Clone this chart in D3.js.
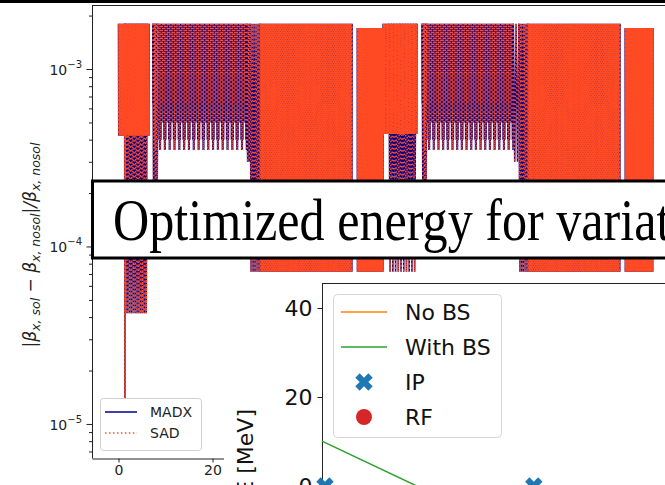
<!DOCTYPE html>
<html>
<head>
<meta charset="utf-8">
<script src="https://cdn.jsdelivr.net/npm/d3@7"></script>
<style>
body { margin: 0; background: #fff; }
svg { display: block; }
text { font-family: "DejaVu Sans", sans-serif; }
</style>
</head>
<body>
<svg id="chart" width="665" height="485"></svg>
<script>
// background plot: relative beta-beat, MADX vs SAD (bands of fast oscillation)
const bandFrom    = [0.0, 1.4, 1.3, 7.3, 7.3, 27.3, 28.0, 30.1, 50.8, 56.3, 57.5, 64.6, 64.6, 84.0, 85.2, 87.1, 107.8];
const bandTo      = [6.5, 6.1, 1.45, 27.3, 8.4, 28.0, 30.1, 49.7, 56.3, 63.5, 63.3, 84.0, 65.6, 85.2, 87.1, 106.7, 113.7];
const bandTop     = [1.8e-3, 1.8e-3, 1.8e-3, 1.8e-3, 1.8e-3, 1.8e-3, 1.8e-3, 1.8e-3, 1.7e-3,
                     1.8e-3, 1.8e-3, 1.8e-3, 1.8e-3, 1.8e-3, 1.8e-3, 1.8e-3, 1.7e-3];
const cellLows    = [6.4e-4, 5.0e-4, 4.0e-4, 3.5e-4, 3.5e-4, 4.0e-4, 5.0e-4, 6.4e-4];
const bandLows    = [[4.2e-4], [4.2e-5], [1.4e-5], cellLows, [1.5e-4], [3.0e-4], [7.2e-5], [7.2e-5], [7.2e-5],
                     [4.3e-4], [7.2e-5], cellLows, [1.5e-4], [3.0e-4], [7.2e-5], [7.2e-5], [7.2e-5]];
const bandStrokes = [78, 12, 2, 156, 3, 2, 5, 230, 65, 85, 10, 156, 3, 2, 5, 230, 70];
const seriesA = ['MADX', 'SAD'];
const xTicksA = [0, 20, 40, 60, 80, 100];
const yMajorA = [1e-5, 1e-4, 1e-3];

// inset: energy along the ring
const legendB = ['No BS', 'With BS', 'IP', 'RF'];
const noBsX = [0, 100];
const noBsY = [0, 0];
const withBsX = [0, 15.8, 19.3];
const withBsY = [10.1, 0, 0];
const ipX = [0.5, 35.3];
const ipY = [0, 0];
const rfX = [];
const rfY = [];
const yTicksB = [0, 20, 40];

const svg = d3.select('#chart');
const navy = '#00008b';
const red = '#ff4a24';
const dotted = '1.5,2.475';

// top edge of the slide
svg.append('rect').attr('x', 0).attr('y', 0).attr('width', 665).attr('height', 3).attr('fill', '#000');

// ---------- background plot ----------
const xA = d3.scaleLinear().domain([-5.64, 130]).range([92, 92 + 135.64 * 4.7]);
const yA = d3.scaleLog().domain([6.43e-6, 2.294e-3]).range([458, 5]);

svg.append('clipPath').attr('id', 'clipA')
    .append('rect').attr('x', 92).attr('y', 5).attr('width', 640).attr('height', 453);

const plotA = svg.append('g').attr('clip-path', 'url(#clipA)');

function bandPoints(i) {
    const n = bandStrokes[i];
    const lows = bandLows[i];
    const pts = [];
    for (let j = 0; j <= 2 * n; j++) {
        const x = bandFrom[i] + (bandTo[i] - bandFrom[i]) * j / (2 * n);
        const v = j % 2 === 0 ? bandTop[i] : lows[((j - 1) / 2) % lows.length];
        pts.push([x, v]);
    }
    return pts;
}

// cell bands: one sub-path per dip, so the dotted pattern lines up across dips
function cellPath(i, parity) {
    const pts = bandPoints(i);
    const len = bandLows[i].length;
    const p = d3.path();
    for (let k = 0; k < bandStrokes[i]; k++) {
        if (Math.floor(k / (len / 2)) % 2 !== parity) continue;
        const a = pts[2 * k], b = pts[2 * k + 1], c = pts[2 * k + 2];
        p.moveTo(xA(a[0]), yA(a[1]));
        p.lineTo(xA(b[0]), yA(b[1]));
        p.moveTo(xA(c[0]), yA(c[1]));
        p.lineTo(xA(b[0]), yA(b[1]));
    }
    return p.toString();
}

const lineA = d3.line().x(d => xA(d[0])).y(d => yA(d[1]));

seriesA.forEach(name => {
    bandFrom.forEach((_, i) => {
        if (name === 'SAD' && bandLows[i].length > 1) {
            [0, 1].forEach(parity => {
                plotA.append('path')
                    .attr('d', cellPath(i, parity))
                    .attr('fill', 'none')
                    .attr('stroke', red)
                    .attr('stroke-width', 1.5)
                    .attr('stroke-dasharray', dotted)
                    .attr('stroke-dashoffset', parity * 2);
            });
            return;
        }
        plotA.append('path')
            .attr('d', lineA(bandPoints(i)))
            .attr('fill', 'none')
            .attr('stroke', name === 'MADX' ? navy : red)
            .attr('stroke-width', 1.5)
            .attr('stroke-dasharray', name === 'SAD' ? dotted : null);
    });
});

// spines
svg.append('line').attr('x1', 92.5).attr('x2', 92.5).attr('y1', 5).attr('y2', 458.5).attr('stroke', '#222').attr('stroke-width', 1);
svg.append('line').attr('x1', 92).attr('x2', 665).attr('y1', 5.5).attr('y2', 5.5).attr('stroke', '#222').attr('stroke-width', 1);

// x axis
const axA = svg.append('g').attr('transform', 'translate(0,458.5)')
    .call(d3.axisBottom(xA).tickValues(xTicksA).tickSize(4).tickSizeOuter(0).tickPadding(3));
axA.select('.domain').attr('stroke', '#222');
axA.selectAll('.tick line').attr('stroke', '#222');
axA.selectAll('.tick text').attr('font-size', 14).attr('fill', '#222');

// y axis, log: minor ticks from the scale, major labels as 10^n
const minorA = yA.ticks().filter(v => !yMajorA.some(m => Math.abs(m - v) / m < 1e-6));
svg.append('g').attr('transform', 'translate(92.5,0)')
    .call(d3.axisLeft(yA).tickValues(minorA).tickSize(3.5).tickFormat(''))
    .call(g => g.select('.domain').remove())
    .selectAll('.tick line').attr('stroke', '#222');
const ayA = svg.append('g').attr('transform', 'translate(92.5,0)')
    .call(d3.axisLeft(yA).tickValues(yMajorA).tickSize(6).tickFormat(''))
    .call(g => g.select('.domain').remove());
ayA.selectAll('.tick line').attr('stroke', '#222');
yMajorA.forEach(v => {
    const t = svg.append('text').attr('x', 82).attr('y', yA(v) + 6)
        .attr('text-anchor', 'end').attr('font-size', 14).attr('fill', '#222');
    t.append('tspan').text('10');
    t.append('tspan').attr('dy', -7).attr('font-size', 10).text('\u2212' + Math.round(-Math.log10(v)));
});

// y label
const ylA = svg.append('text').attr('transform', 'translate(36,245) rotate(-90)')
    .attr('text-anchor', 'middle').attr('font-size', 17).attr('fill', '#222');
[['|\u03b2', 0, 17], ['x, sol', 4, 12.5], [' \u2212 \u03b2', -4, 17], ['x, nosol', 4, 12.5],
 ['|/\u03b2', -4, 17], ['x, nosol', 4, 12.5]].forEach(p => {
    ylA.append('tspan').attr('dy', p[1]).attr('font-size', p[2]).attr('font-style', 'italic').text(p[0]);
});

// legend A
const legA = svg.append('g');
legA.append('rect').attr('x', 100.5).attr('y', 398.5).attr('width', 101).attr('height', 52).attr('rx', 3)
    .attr('fill', '#fff').attr('fill-opacity', 0.8).attr('stroke', '#d0d0d0');
seriesA.forEach((name, i) => {
    const y = 412 + i * 21;
    legA.append('line').attr('x1', 105).attr('x2', 137).attr('y1', y).attr('y2', y)
        .attr('stroke', name === 'MADX' ? navy : red).attr('stroke-width', 1.5)
        .attr('stroke-dasharray', name === 'SAD' ? dotted : null);
    legA.append('text').attr('x', 150).attr('y', y + 5).attr('font-size', 14).attr('fill', '#222').text(name);
});

// ---------- title box ----------
svg.append('rect').attr('x', 92.5).attr('y', 181).attr('width', 640).attr('height', 77)
    .attr('fill', '#fff').attr('stroke', '#000').attr('stroke-width', 3);
svg.append('text').attr('transform', 'translate(113,240) scale(0.85,1)')
    .style('font-family', '"Liberation Serif", "DejaVu Serif", serif')
    .attr('font-size', 59).attr('fill', '#000')
    .text('Optimized energy for variation');

// ---------- inset plot ----------
svg.append('rect').attr('x', 224).attr('y', 276).attr('width', 441).attr('height', 209).attr('fill', '#fff');

const xB = d3.scaleLinear().domain([0, 100]).range([322, 922]);
const yB = d3.scaleLinear().domain([0, 40]).range([486, 308]);

svg.append('line').attr('x1', 322.5).attr('x2', 322.5).attr('y1', 283).attr('y2', 485).attr('stroke', '#222');
svg.append('line').attr('x1', 322).attr('x2', 665).attr('y1', 283.5).attr('y2', 283.5).attr('stroke', '#222');

const ayB = svg.append('g').attr('transform', 'translate(322.5,0)')
    .call(d3.axisLeft(yB).tickValues(yTicksB).tickSize(5).tickPadding(5))
    .call(g => g.select('.domain').remove());
ayB.selectAll('.tick line').attr('stroke', '#222');
ayB.selectAll('.tick text').attr('font-size', 22).attr('fill', '#111');

svg.append('text').attr('transform', 'translate(253,409) rotate(-90)')
    .attr('text-anchor', 'end').attr('font-size', 22).attr('fill', '#111').text('E [MeV]');

const lineB = d3.line().x(d => xB(d[0])).y(d => yB(d[1]));
svg.append('path').attr('d', lineB(noBsX.map((x, i) => [x, noBsY[i]])))
    .attr('fill', 'none').attr('stroke', '#ff7f0e').attr('stroke-width', 1.5);
svg.append('path').attr('d', lineB(withBsX.map((x, i) => [x, withBsY[i]])))
    .attr('fill', 'none').attr('stroke', '#2ca02c').attr('stroke-width', 1.5);

const xMark = d3.symbol().type(d3.symbolCross).size(190);
svg.selectAll('.ip').data(ipX.map((x, i) => [x, ipY[i]])).enter().append('path')
    .attr('class', 'ip')
    .attr('d', xMark)
    .attr('transform', d => `translate(${xB(d[0])},${yB(d[1])}) rotate(45)`)
    .attr('fill', '#1f77b4');
svg.selectAll('.rf').data(rfX.map((x, i) => [x, rfY[i]])).enter().append('circle')
    .attr('class', 'rf')
    .attr('cx', d => xB(d[0])).attr('cy', d => yB(d[1])).attr('r', 8)
    .attr('fill', '#d62728');

// legend B
const legB = svg.append('g');
legB.append('rect').attr('x', 333.5).attr('y', 294.5).attr('width', 168).attr('height', 143).attr('rx', 4)
    .attr('fill', '#fff').attr('fill-opacity', 0.8).attr('stroke', '#d6d6d6');
legendB.forEach((name, i) => {
    const y = 312 + i * 35;
    if (name === 'No BS' || name === 'With BS') {
        legB.append('line').attr('x1', 341).attr('x2', 387).attr('y1', y).attr('y2', y)
            .attr('stroke', name === 'No BS' ? '#ff7f0e' : '#2ca02c').attr('stroke-width', 1.5);
    } else if (name === 'IP') {
        legB.append('path').attr('d', xMark).attr('transform', `translate(364,${y}) rotate(45)`).attr('fill', '#1f77b4');
    } else {
        legB.append('circle').attr('cx', 364).attr('cy', y).attr('r', 8).attr('fill', '#d62728');
    }
    legB.append('text').attr('x', 405).attr('y', y + 8).attr('font-size', 22).attr('fill', '#111').text(name);
});
</script>
</body>
</html>
